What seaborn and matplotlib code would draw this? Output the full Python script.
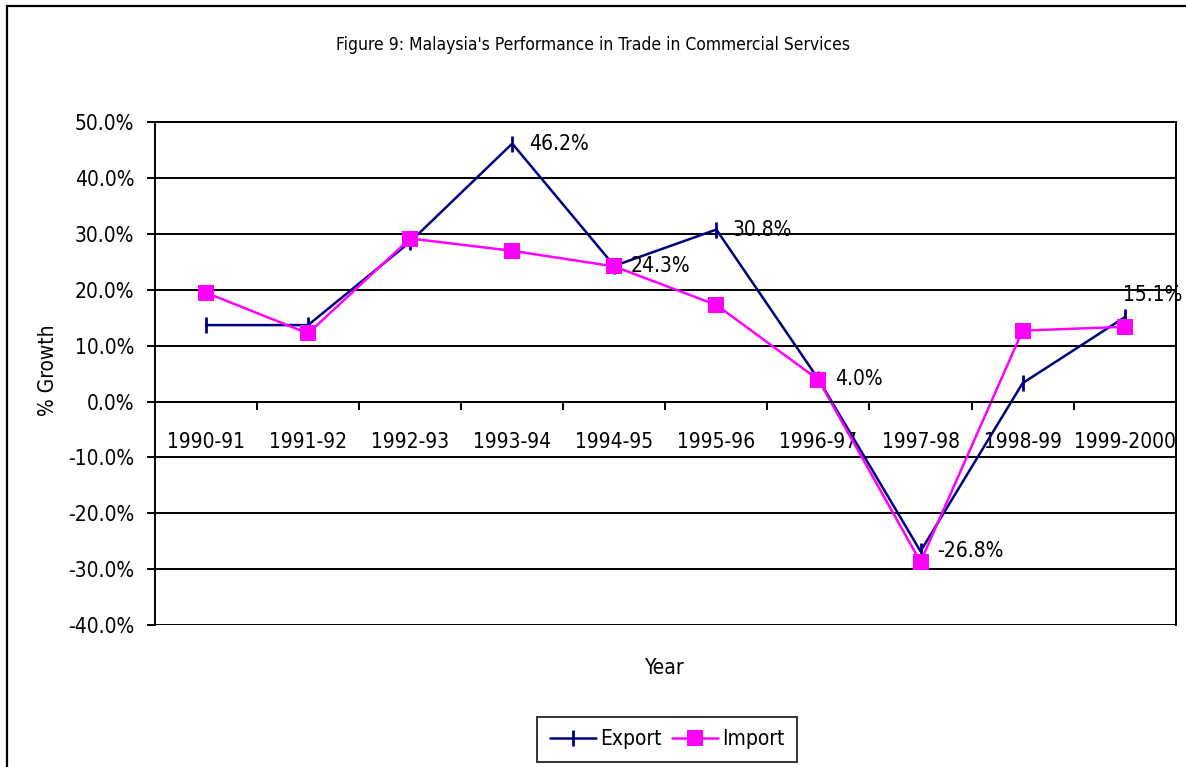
import pandas as pd
import numpy as np
import matplotlib
matplotlib.use('Agg')
import matplotlib.pyplot as plt
import seaborn as sns
from matplotlib.patches import Rectangle
from matplotlib.ticker import FixedLocator, FuncFormatter

years = ['1990-91', '1991-92', '1992-93', '1993-94', '1994-95',
         '1995-96', '1996-97', '1997-98', '1998-99', '1999-2000']
export_growth = [13.7, 13.7, 28.6, 46.2, 24.3, 30.8, 4.0, -26.8, 3.3, 15.1]
import_growth = [19.5, 12.2, 29.2, 27.0, 24.2, 17.3, 3.9, -28.7, 12.7, 13.4]
# which export points carry a data label
labelled = ['1993-94', '1994-95', '1995-96', '1996-97', '1997-98', '1999-2000']
y_ticks = [50, 40, 30, 20, 10, 0, -10, -20, -30, -40]

sns.set_style('white')
plt.rcParams['font.family'] = ['DejaVu Sans']
plt.rcParams['font.stretch'] = 'condensed'
for k in ['text.color', 'xtick.color', 'ytick.color', 'axes.labelcolor']:
    plt.rcParams[k] = 'black'

df = pd.DataFrame({'year': years, 'Export': export_growth, 'Import': import_growth})

fig = plt.figure(figsize=(11.86, 7.67), dpi=100)
ax = fig.add_axes([0.1307, 0.1851, 0.8606, 0.6554])

sns.lineplot(data=df, x='year', y='Export', ax=ax, color='#000080', linewidth=1.8,
             marker='|', markersize=12, markeredgewidth=2, markeredgecolor='#000080',
             label='Export', sort=False)
sns.lineplot(data=df, x='year', y='Import', ax=ax, color='#FF00FF', linewidth=1.8,
             marker='s', markersize=11, markeredgewidth=0, label='Import', sort=False)

ax.set_xlim(-0.5, len(years) - 0.5)
ax.set_ylim(-40, 50)
ax.yaxis.set_major_locator(FixedLocator(y_ticks))
ax.yaxis.set_major_formatter(FuncFormatter(lambda v, p: f'{v:.1f}%'))
ax.grid(axis='y', color='black', linewidth=1.4)
ax.grid(axis='x', visible=False)
ax.set_axisbelow(True)

for side in ['left', 'right', 'top', 'bottom']:
    ax.spines[side].set_visible(True)
    ax.spines[side].set_color('black')
    ax.spines[side].set_linewidth(1.4)
ax.spines['bottom'].set_position(('data', 0))

fs = 15
ax.set_xticks(range(len(years)))
ax.set_xticklabels(years)
ax.set_xticks(np.arange(0.5, len(years) - 1, 1), minor=True)
ax.tick_params(axis='x', which='major', length=0, pad=22, labelsize=fs)
ax.tick_params(axis='x', which='minor', direction='out', length=6, width=1.4,
               color='black', bottom=True)
ax.tick_params(axis='y', direction='out', length=6, width=1.4, color='black',
               left=True, pad=9, labelsize=fs)

ax.set_xlabel('')
ax.set_ylabel('% Growth', fontsize=fs)
ax.yaxis.set_label_coords(-0.095, 0.507)

for i, yr in enumerate(years):
    if yr in labelled:
        v = export_growth[i]
        if yr == '1999-2000':
            ax.annotate(f'{v:.1f}%', (i, v), xytext=(-1, 16), textcoords='offset points',
                        ha='left', va='center', fontsize=fs)
        else:
            ax.annotate(f'{v:.1f}%', (i, v), xytext=(12, 0), textcoords='offset points',
                        ha='left', va='center', fontsize=fs)

fig.text(593 / 1186, 1 - 45 / 767,
         "Figure 9: Malaysia's Performance in Trade in Commercial Services",
         ha='center', va='center', fontsize=12.5)
fig.text(665 / 1186, 1 - 668 / 767, 'Year', ha='center', va='center', fontsize=fs)

handles, labels = ax.get_legend_handles_labels()
ax.get_legend().remove()
leg = fig.legend(handles, labels, loc='center', bbox_to_anchor=(667 / 1186, 1 - 739 / 767),
                 ncol=2, fontsize=fs, frameon=True, fancybox=False, edgecolor='black',
                 handlelength=2.2, handletextpad=0.2, columnspacing=0.5, borderpad=0.6,
                 borderaxespad=0.2)
leg.get_frame().set_linewidth(1.4)

fig.patches.append(Rectangle((7 / 1186, -0.05), 1.2, 1 - 6 / 767 + 0.05,
                             transform=fig.transFigure, fill=False,
                             edgecolor='black', linewidth=1.6))

plt.savefig('out.png', dpi=100)
